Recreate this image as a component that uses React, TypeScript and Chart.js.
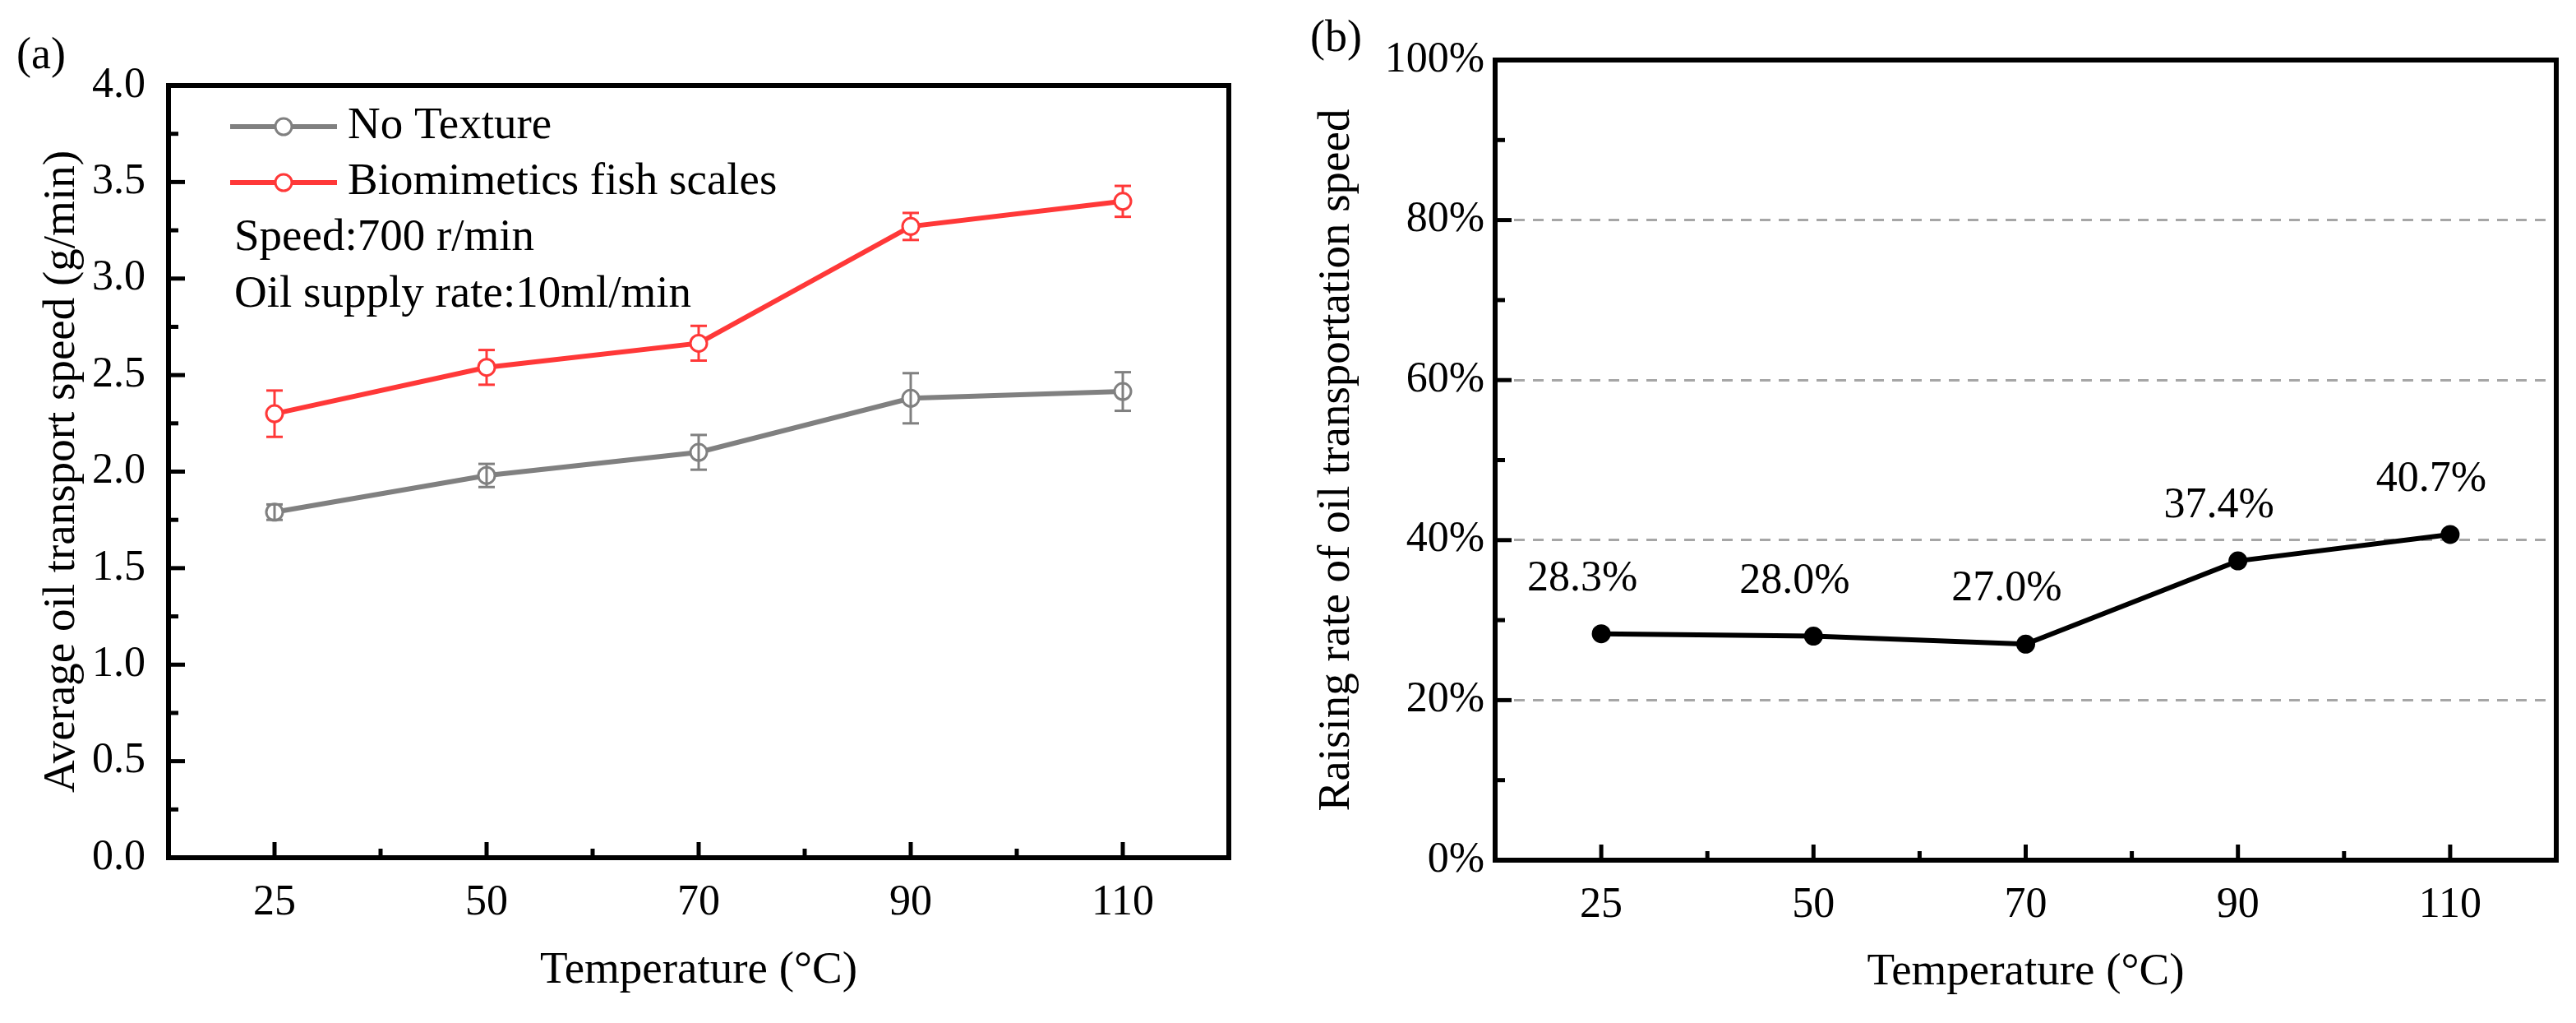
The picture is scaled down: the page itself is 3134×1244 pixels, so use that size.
import React, { useEffect, useRef } from 'react';
import { Chart, registerables } from 'chart.js';

Chart.register(...registerables);

// ---------- data ----------
const temperatures = ['25', '50', '70', '90', '110'];
const noTexture = [1.79, 1.98, 2.1, 2.38, 2.415];
const noTextureErr = [0.04, 0.06, 0.09, 0.13, 0.1];
const fishScales = [2.3, 2.54, 2.665, 3.27, 3.4];
const fishScalesErr = [0.12, 0.09, 0.09, 0.07, 0.08];
const raisingRate = [28.3, 28.0, 27.0, 37.4, 40.7];
const notesA = ['Speed:700 r/min', 'Oil supply rate:10ml/min'];

const FONT = '"Liberation Serif", "Times New Roman", Times, serif';
const GRAY = '#808080';
const RED = '#FF3838';

function seg(ctx: CanvasRenderingContext2D, x1: number, y1: number, x2: number, y2: number) {
  ctx.beginPath();
  ctx.moveTo(x1, y1);
  ctx.lineTo(x2, y2);
  ctx.stroke();
}

const frameTicksPlugin = {
  id: 'frameTicks',
  afterDraw(chart: any) {
    const { ctx, chartArea: a, scales } = chart;
    const xs = scales.x;
    const ys = scales.y;
    ctx.save();
    ctx.strokeStyle = '#000';
    ctx.lineCap = 'butt';
    ctx.lineWidth = 5;
    const n = xs.ticks.length;
    for (let i = 0; i < n; i++) {
      const px = xs.getPixelForTick(i);
      seg(ctx, px, a.bottom, px, a.bottom - 19);
      if (i < n - 1) {
        const mx = (px + xs.getPixelForTick(i + 1)) / 2;
        seg(ctx, mx, a.bottom, mx, a.bottom - 11);
      }
    }
    const yt = ys.ticks;
    for (let i = 0; i < yt.length; i++) {
      const py = ys.getPixelForValue(yt[i].value);
      seg(ctx, a.left, py, a.left + 20, py);
      if (i < yt.length - 1) {
        const my = (py + ys.getPixelForValue(yt[i + 1].value)) / 2;
        seg(ctx, a.left, my, a.left + 12, my);
      }
    }
    ctx.lineWidth = 6;
    ctx.strokeRect(a.left, a.top, a.right - a.left, a.bottom - a.top);
    ctx.restore();
  },
};

const errorBarPlugin = {
  id: 'errorBars',
  afterDatasetsDraw(chart: any) {
    const { ctx } = chart;
    const ys = chart.scales.y;
    chart.data.datasets.forEach((ds: any, di: number) => {
      const errs = ds.errorBars;
      if (!errs) return;
      const meta = chart.getDatasetMeta(di);
      ctx.save();
      ctx.strokeStyle = ds.borderColor;
      ctx.lineWidth = 3;
      meta.data.forEach((pt: any, i: number) => {
        const v = ds.data[i];
        const e = errs[i];
        const yTop = ys.getPixelForValue(v + e);
        const yBot = ys.getPixelForValue(v - e);
        const r = ds.pointRadius;
        if (ds.errorThrough) {
          seg(ctx, pt.x, yTop, pt.x, yBot);
        } else {
          if (pt.y - r > yTop) seg(ctx, pt.x, yTop, pt.x, pt.y - r);
          if (pt.y + r < yBot) seg(ctx, pt.x, pt.y + r, pt.x, yBot);
        }
        seg(ctx, pt.x - 10, yTop, pt.x + 10, yTop);
        seg(ctx, pt.x - 10, yBot, pt.x + 10, yBot);
      });
      ctx.restore();
    });
  },
};

const legendAPlugin = {
  id: 'legendA',
  afterDraw(chart: any) {
    const { ctx, chartArea: a } = chart;
    ctx.save();
    chart.data.datasets.forEach((ds: any, i: number) => {
      const yy = a.top + 50 + i * 68;
      ctx.strokeStyle = ds.borderColor;
      ctx.lineWidth = 6;
      seg(ctx, a.left + 75, yy, a.left + 205, yy);
      ctx.beginPath();
      ctx.arc(a.left + 140, yy, 10, 0, Math.PI * 2);
      ctx.fillStyle = '#fff';
      ctx.fill();
      ctx.lineWidth = 3;
      ctx.stroke();
      ctx.fillStyle = '#000';
      ctx.font = `55px ${FONT}`;
      ctx.textAlign = 'left';
      ctx.textBaseline = 'middle';
      ctx.fillText(ds.label, a.left + 218, yy);
    });
    ctx.fillStyle = '#000';
    ctx.font = `55px ${FONT}`;
    ctx.textAlign = 'left';
    ctx.textBaseline = 'middle';
    notesA.forEach((t, j) => ctx.fillText(t, a.left + 80, a.top + 186 + j * 69));
    ctx.font = `54px ${FONT}`;
    ctx.textBaseline = 'alphabetic';
    ctx.fillText('(a)', 20, 83);
    ctx.restore();
  },
};

const labelsBPlugin = {
  id: 'labelsB',
  afterDraw(chart: any) {
    const { ctx } = chart;
    const meta = chart.getDatasetMeta(0);
    const ds = chart.data.datasets[0];
    ctx.save();
    ctx.fillStyle = '#000';
    ctx.font = `52px ${FONT}`;
    ctx.textAlign = 'center';
    ctx.textBaseline = 'alphabetic';
    meta.data.forEach((pt: any, i: number) => {
      ctx.fillText(`${ds.data[i].toFixed(1)}%`, pt.x - 23, pt.y - 53);
    });
    ctx.font = `54px ${FONT}`;
    ctx.textAlign = 'left';
    ctx.fillText('(b)', 27, 62);
    ctx.restore();
  },
};

function tickFont(size: number) {
  return { family: FONT, size, weight: 'normal' as const };
}

function makeChartA(canvas: HTMLCanvasElement) {
  return new Chart(canvas, {
    type: 'line',
    data: {
      labels: temperatures,
      datasets: [
        {
          label: 'No Texture',
          data: noTexture,
          borderColor: GRAY,
          backgroundColor: '#fff',
          borderWidth: 6,
          pointRadius: 10,
          pointBorderWidth: 3,
          pointBackgroundColor: '#fff',
          pointBorderColor: GRAY,
          errorBars: noTextureErr,
          errorThrough: true,
        } as any,
        {
          label: 'Biomimetics fish scales',
          data: fishScales,
          borderColor: RED,
          backgroundColor: '#fff',
          borderWidth: 6,
          pointRadius: 10,
          pointBorderWidth: 3,
          pointBackgroundColor: '#fff',
          pointBorderColor: RED,
          errorBars: fishScalesErr,
          errorThrough: false,
        } as any,
      ],
    },
    options: {
      animation: false,
      responsive: false,
      maintainAspectRatio: false,
      devicePixelRatio: 1,
      layout: { padding: { top: 104, right: 72, left: 0, bottom: 0 } },
      plugins: { legend: { display: false }, tooltip: { enabled: false } },
      scales: {
        x: {
          type: 'category',
          offset: true,
          grid: { display: false },
          border: { display: false },
          ticks: { color: '#000', font: tickFont(52), padding: 16, maxRotation: 0 },
          title: {
            display: true,
            text: 'Temperature (°C)',
            color: '#000',
            font: tickFont(55),
            padding: { top: 0, bottom: 30 },
          },
          afterFit(scale: any) {
            scale.height = 201;
          },
        },
        y: {
          min: 0,
          max: 4,
          grid: { display: false },
          border: { display: false },
          ticks: {
            stepSize: 0.5,
            color: '#000',
            font: tickFont(52),
            padding: 20,
            callback: (v: any) => Number(v).toFixed(1),
          },
          title: {
            display: true,
            text: 'Average oil transport speed (g/min)',
            color: '#000',
            font: tickFont(55),
            padding: { top: 43, bottom: 0 },
          },
          afterFit(scale: any) {
            scale.width = 205;
          },
        },
      },
    } as any,
    plugins: [errorBarPlugin, frameTicksPlugin, legendAPlugin],
  });
}

function makeChartB(canvas: HTMLCanvasElement) {
  return new Chart(canvas, {
    type: 'line',
    data: {
      labels: temperatures,
      datasets: [
        {
          label: 'Raising rate',
          data: raisingRate,
          borderColor: '#000',
          backgroundColor: '#000',
          borderWidth: 6,
          pointRadius: 11.5,
          pointBorderWidth: 0,
          pointBackgroundColor: '#000',
          pointBorderColor: '#000',
        },
      ],
    },
    options: {
      animation: false,
      responsive: false,
      maintainAspectRatio: false,
      devicePixelRatio: 1,
      layout: { padding: { top: 73, right: 24, left: 0, bottom: 0 } },
      plugins: { legend: { display: false }, tooltip: { enabled: false } },
      scales: {
        x: {
          type: 'category',
          offset: true,
          grid: { display: false },
          border: { display: false },
          ticks: { color: '#000', font: tickFont(52), padding: 16, maxRotation: 0 },
          title: {
            display: true,
            text: 'Temperature (°C)',
            color: '#000',
            font: tickFont(55),
            padding: { top: 0, bottom: 28 },
          },
          afterFit(scale: any) {
            scale.height = 198;
          },
        },
        y: {
          min: 0,
          max: 100,
          grid: {
            display: true,
            drawTicks: false,
            lineWidth: 3,
            color: (c: any) =>
              c.tick && (c.tick.value === 0 || c.tick.value === 100) ? 'rgba(0,0,0,0)' : '#a6a6a6',
          },
          border: { display: false, dash: [13, 10] },
          ticks: {
            stepSize: 20,
            color: '#000',
            font: tickFont(52),
            padding: 13,
            callback: (v: any) => `${v}%`,
          },
          title: {
            display: true,
            text: 'Raising rate of oil transportation speed',
            color: '#000',
            font: tickFont(55),
            padding: { top: 27, bottom: 0 },
          },
          afterFit(scale: any) {
            scale.width = 252;
          },
        },
      },
    } as any,
    plugins: [frameTicksPlugin, labelsBPlugin],
  });
}

export default function App() {
  const refA = useRef<HTMLCanvasElement>(null);
  const refB = useRef<HTMLCanvasElement>(null);

  useEffect(() => {
    if (!refA.current || !refB.current) return;
    const a = makeChartA(refA.current);
    const b = makeChartB(refB.current);
    return () => {
      a.destroy();
      b.destroy();
    };
  }, []);

  return (
    <div
      style={{
        position: 'absolute',
        left: 0,
        top: 0,
        width: 3134,
        height: 1244,
        background: '#fff',
      }}
    >
      <canvas
        ref={refA}
        width={1567}
        height={1244}
        style={{ position: 'absolute', left: 0, top: 0, width: 1567, height: 1244 }}
      />
      <canvas
        ref={refB}
        width={1567}
        height={1244}
        style={{ position: 'absolute', left: 1567, top: 0, width: 1567, height: 1244 }}
      />
    </div>
  );
}
